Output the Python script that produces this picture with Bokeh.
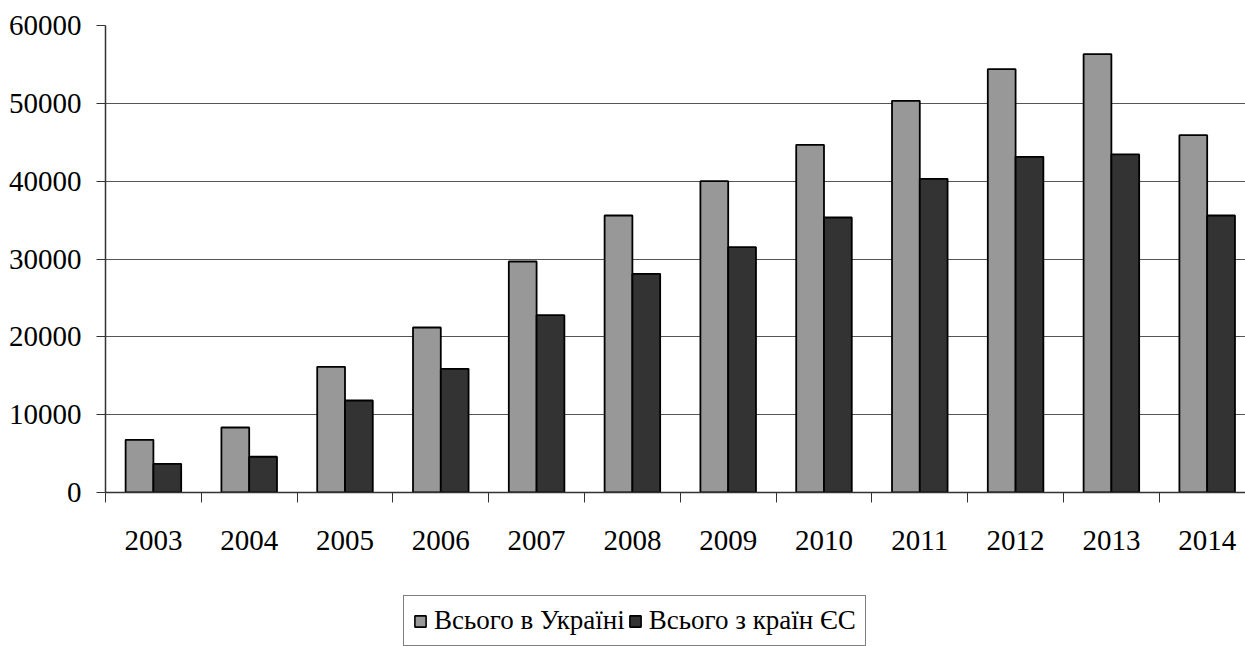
from bokeh.plotting import figure
from bokeh.layouts import column
from bokeh.models import (ColumnDataSource, Range1d, FixedTicker, Legend, LegendItem,
                          LinearAxis)
from bokeh.embed import file_html
from bokeh.resources import INLINE

years = ["2003", "2004", "2005", "2006", "2007", "2008", "2009", "2010", "2011", "2012", "2013", "2014"]
total_ukraine = [6770, 8350, 16150, 21200, 29680, 35590, 40000, 44670, 50320, 54390, 56320, 45910]
total_eu = [3690, 4590, 11820, 15890, 22780, 28100, 31520, 35330, 40300, 43130, 43430, 35590]
series_names = ["Всього в Україні", "Всього з країн ЄС"]
y_ticks = [0, 10000, 20000, 30000, 40000, 50000, 60000]

FONT = "Liberation Serif"
LIGHT = "#989898"
DARK = "#333333"
n = len(years)
centers = [i + 0.5 for i in range(n)]
bw = 0.29

src = ColumnDataSource(dict(
    x1=[c - bw / 2 for c in centers],
    x2=[c + bw / 2 for c in centers],
    ua=total_ukraine, eu=total_eu,
))

p = figure(width=1245, height=595, output_backend="svg", toolbar_location=None,
           x_range=Range1d(0, n - 0.1), y_range=Range1d(0, 60000),
           min_border_left=105, min_border_right=0, min_border_top=25, min_border_bottom=103,
           x_axis_location=None, y_axis_location=None)
p.outline_line_color = None
p.background_fill_color = "white"
p.border_fill_color = "white"

p.vbar(x="x1", top="ua", width=bw, bottom=0, source=src,
       fill_color=LIGHT, line_color="black", line_width=1.8)
p.vbar(x="x2", top="eu", width=bw, bottom=0, source=src,
       fill_color=DARK, line_color="black", line_width=1.8)

xaxis = LinearAxis(ticker=FixedTicker(ticks=centers, minor_ticks=list(range(n + 1))),
                   major_label_overrides={c: y for c, y in zip(centers, years)})
xaxis.major_tick_line_color = None
xaxis.minor_tick_in = 0
xaxis.minor_tick_out = 10
xaxis.minor_tick_line_color = "#333333"
xaxis.minor_tick_line_width = 1
xaxis.axis_line_color = "#333333"
xaxis.axis_line_width = 1.5
xaxis.major_label_text_font = FONT
xaxis.major_label_text_font_size = "29px"
xaxis.major_label_text_color = "black"
xaxis.major_label_standoff = 28
p.add_layout(xaxis, "below")

yaxis = LinearAxis(ticker=FixedTicker(ticks=y_ticks))
yaxis.major_tick_in = 0
yaxis.major_tick_out = 9
yaxis.major_tick_line_color = "#333333"
yaxis.minor_tick_line_color = None
yaxis.axis_line_color = "#333333"
yaxis.axis_line_width = 1.5
yaxis.major_label_text_font = FONT
yaxis.major_label_text_font_size = "29px"
yaxis.major_label_text_color = "black"
yaxis.major_label_standoff = 15
p.add_layout(yaxis, "left")

p.xgrid.visible = False
p.ygrid.ticker = FixedTicker(ticks=y_ticks)
p.ygrid.grid_line_color = "#555555"
p.ygrid.grid_line_width = 1.2

# legend strip below the chart (hidden renderers only supply legend swatches)
lf = figure(width=1245, height=51, output_backend="svg", toolbar_location=None,
            x_range=Range1d(0, n - 0.1), y_range=Range1d(0, 60000),
            min_border_left=105, min_border_right=0, min_border_top=0, min_border_bottom=0,
            x_axis_location=None, y_axis_location=None)
lf.outline_line_color = None
lf.xgrid.visible = False
lf.ygrid.visible = False
lr1 = lf.vbar(x="x1", top="ua", width=bw, source=src, fill_color=LIGHT,
              line_color="black", line_width=1.6, visible=False)
lr2 = lf.vbar(x="x2", top="eu", width=bw, source=src, fill_color=DARK,
              line_color="black", line_width=1.6, visible=False)

legend = Legend(items=[LegendItem(label=series_names[0], renderers=[lr1]),
                       LegendItem(label=series_names[1], renderers=[lr2])],
                orientation="horizontal", location=(298, 0))
legend.label_text_font = FONT
legend.label_text_font_size = "27px"
legend.label_text_color = "black"
legend.glyph_width = 14
legend.glyph_height = 14
legend.label_standoff = 7
legend.spacing = 3
legend.padding = 9
legend.margin = 0
legend.border_line_color = "black"
legend.border_line_width = 1
legend.background_fill_alpha = 1
legend.inactive_fill_alpha = 0
legend.click_policy = "none"
lf.add_layout(legend, "center")

layout = column(p, lf, spacing=0)
open("out.html", "w").write(file_html(layout, INLINE))
